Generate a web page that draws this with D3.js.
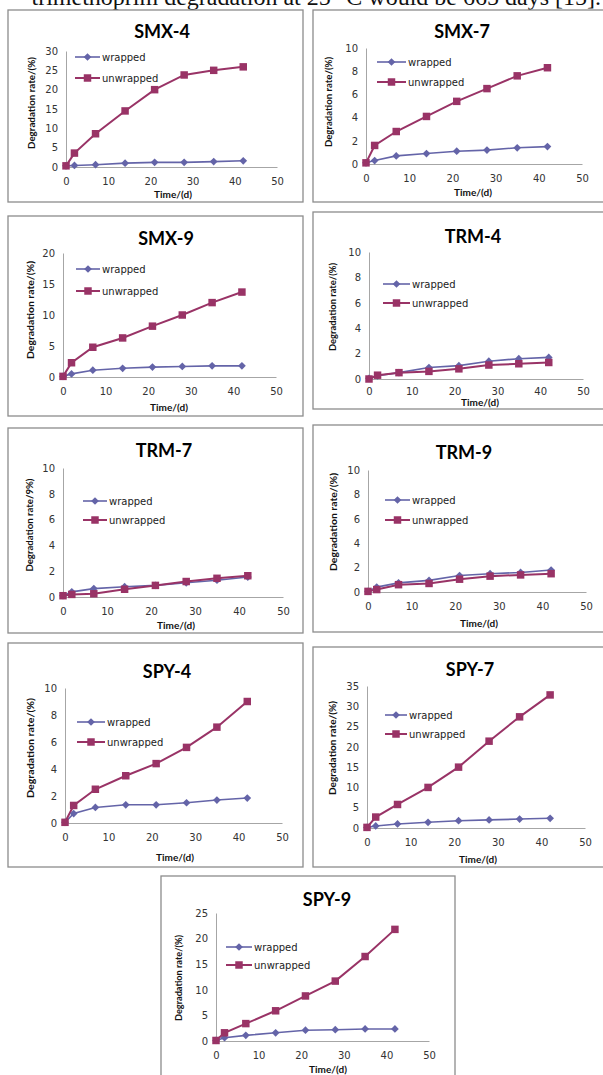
<!DOCTYPE html>
<html>
<head>
<meta charset="utf-8">
<script src="https://cdn.jsdelivr.net/npm/d3@7"></script>
<style>
  body { margin: 0; background: #fff; }
  svg { display: block; }
</style>
</head>
<body>
<svg id="chart"></svg>
<script>
// ---- data (days and degradation rate, %) ----
const days = [0, 2, 7, 14, 21, 28, 35, 42];
const xTicks = [0, 10, 20, 30, 40, 50];
const seriesNames = ["wrapped", "unwrapped"];

const smx4Wrapped   = [0.3, 0.4, 0.6, 1.0, 1.2, 1.2, 1.4, 1.6];
const smx4Unwrapped = [0.3, 3.6, 8.6, 14.5, 20.0, 23.8, 25.0, 25.9];
const smx7Wrapped   = [0.1, 0.3, 0.7, 0.9, 1.1, 1.2, 1.4, 1.5];
const smx7Unwrapped = [0.1, 1.6, 2.8, 4.1, 5.4, 6.5, 7.6, 8.3];
const smx9Wrapped   = [0.1, 0.5, 1.1, 1.4, 1.6, 1.7, 1.8, 1.8];
const smx9Unwrapped = [0.1, 2.3, 4.8, 6.3, 8.2, 10.0, 12.0, 13.7];
const trm4Wrapped   = [0.05, 0.25, 0.5, 0.9, 1.05, 1.4, 1.6, 1.7];
const trm4Unwrapped = [0.0, 0.3, 0.5, 0.6, 0.8, 1.1, 1.2, 1.3];
const trm7Wrapped   = [0.1, 0.4, 0.65, 0.8, 0.9, 1.1, 1.3, 1.55];
const trm7Unwrapped = [0.1, 0.2, 0.25, 0.6, 0.9, 1.2, 1.45, 1.65];
const trm9Wrapped   = [0.05, 0.4, 0.75, 0.95, 1.35, 1.5, 1.6, 1.8];
const trm9Unwrapped = [0.05, 0.2, 0.6, 0.7, 1.05, 1.3, 1.4, 1.5];
const spy4Wrapped   = [0.05, 0.7, 1.15, 1.35, 1.35, 1.5, 1.7, 1.85];
const spy4Unwrapped = [0.05, 1.3, 2.5, 3.5, 4.4, 5.6, 7.1, 9.0];
const spy7Wrapped   = [0.15, 0.5, 1.0, 1.4, 1.8, 2.0, 2.2, 2.4];
const spy7Unwrapped = [0.15, 2.7, 5.8, 10.0, 15.0, 21.4, 27.4, 32.8];
const spy9Wrapped   = [0.1, 0.65, 1.1, 1.6, 2.1, 2.2, 2.35, 2.35];
const spy9Unwrapped = [0.1, 1.6, 3.4, 5.9, 8.8, 11.7, 16.5, 21.8];

// ---- panel layout (page pixels) ----
const panels = [
  { title: "SMX-4", w: smx4Wrapped, u: smx4Unwrapped, yMax: 30, yStep: 5,
    box: [8, 10, 303, 202], ax: [66, 277, 167, 51], tx: 162, ty: 38, pad: 11,
    leg: [75, 100, 57, 78], xl: [173, 198], yl: [35, 103], ylabel: "Degradation rate/(%)", yLen: 92 },
  { title: "SMX-7", w: smx7Wrapped, u: smx7Unwrapped, yMax: 10, yStep: 2,
    box: [313, 10, 612, 202], ax: [366, 582, 164, 48], tx: 462, ty: 38, pad: 11,
    leg: [377, 406, 62, 82], xl: [473, 196], yl: [332, 102], ylabel: "Degradation rate/(%)", yLen: 90 },
  { title: "SMX-9", w: smx9Wrapped, u: smx9Unwrapped, yMax: 20, yStep: 5,
    box: [8, 216, 303, 416], ax: [63, 276, 377, 253], tx: 166, ty: 245, pad: 11,
    leg: [76, 100, 269, 291], xl: [169, 411], yl: [34, 310], ylabel: "Degradation rate/(%)", yLen: 98 },
  { title: "TRM-4", w: trm4Wrapped, u: trm4Unwrapped, yMax: 10, yStep: 2,
    box: [313, 212, 612, 409], ax: [369, 583, 379, 252], tx: 473, ty: 243, pad: 9,
    leg: [383, 410, 284, 303], xl: [480, 406], yl: [336, 307], ylabel: "Degradation rate/(%)", yLen: 88 },
  { title: "TRM-7", w: trm7Wrapped, u: trm7Unwrapped, yMax: 10, yStep: 2,
    box: [8, 428, 303, 633], ax: [63, 283, 597, 468], tx: 164, ty: 457, pad: 11,
    leg: [83, 107, 501, 520], xl: [176, 629], yl: [33, 525], ylabel: "Degradation rate/9%)", yLen: 93 },
  { title: "TRM-9", w: trm9Wrapped, u: trm9Unwrapped, yMax: 10, yStep: 2,
    box: [313, 425, 612, 632], ax: [368, 586, 592, 470], tx: 464, ty: 459, pad: 11,
    leg: [385, 410, 500, 520], xl: [479, 627], yl: [337, 522], ylabel: "Degradation rate/(%)", yLen: 98 },
  { title: "SPY-4", w: spy4Wrapped, u: spy4Unwrapped, yMax: 10, yStep: 2,
    box: [8, 643, 303, 867], ax: [65, 282, 823, 688], tx: 167, ty: 678, pad: 11,
    leg: [77, 105, 722, 742], xl: [175, 861], yl: [34, 748], ylabel: "Degradation rate/(%)", yLen: 100 },
  { title: "SPY-7", w: spy7Wrapped, u: spy7Unwrapped, yMax: 35, yStep: 5,
    box: [313, 647, 612, 867], ax: [367, 585, 828, 686], tx: 470, ty: 676, pad: 11,
    leg: [385, 407, 715, 734], xl: [478, 863], yl: [336, 748], ylabel: "Degradation rate/(%)", yLen: 94 },
  { title: "SPY-9", w: spy9Wrapped, u: spy9Unwrapped, yMax: 25, yStep: 5,
    box: [161, 876, 455, 1090], ax: [216, 429, 1041, 913], tx: 327, ty: 906, pad: 11,
    leg: [226, 252, 947, 965], xl: [328, 1073], yl: [182, 978], ylabel: "Degradation rate/(%)", yLen: 86 }
];

const colors = { wrapped: "#6464a8", unwrapped: "#993366" };
const tickFont = "'DejaVu Sans', Verdana, sans-serif";
const labelFont = "Lato, 'Open Sans', sans-serif";

const svg = d3.select("#chart").attr("width", 603).attr("height", 1075);

// line of body text cut off by the top edge of the page
svg.append("text")
  .attr("x", 601).attr("y", 5)
  .attr("text-anchor", "end")
  .attr("font-family", "'Liberation Serif', 'DejaVu Serif', serif")
  .attr("font-size", 24)
  .attr("fill", "#111")
  .text("trimethoprim degradation at 25 °C would be 665 days [15].");

const diamond = d3.symbol().type(d3.symbolSquare).size(30);
const square = d3.symbol().type(d3.symbolSquare).size(56);

panels.forEach(p => {
  const g = svg.append("g");

  // frame
  g.append("rect")
    .attr("x", p.box[0]).attr("y", p.box[1])
    .attr("width", p.box[2] - p.box[0]).attr("height", p.box[3] - p.box[1])
    .attr("fill", "#fff").attr("stroke", "#8c8c8c").attr("stroke-width", 1.3);

  const x = d3.scaleLinear().domain([0, 50]).range([p.ax[0], p.ax[1]]);
  const y = d3.scaleLinear().domain([0, p.yMax]).range([p.ax[2], p.ax[3]]);

  // axes
  const yAxis = g.append("g")
    .attr("transform", `translate(${p.ax[0]},0)`)
    .call(d3.axisLeft(y).tickValues(d3.range(0, p.yMax + 0.01, p.yStep)).tickSize(0).tickPadding(8));
  const xAxis = g.append("g")
    .attr("transform", `translate(0,${p.ax[2]})`)
    .call(d3.axisBottom(x).tickValues(xTicks).tickSize(0).tickPadding(p.pad));

  [xAxis, yAxis].forEach(a => {
    a.select(".domain").attr("stroke", "#a6a6a6").attr("stroke-width", 1);
    a.selectAll("text").attr("font-family", tickFont).attr("font-size", 10).attr("fill", "#333");
  });

  // titles
  g.append("text")
    .attr("x", p.tx).attr("y", p.ty)
    .attr("text-anchor", "middle")
    .attr("font-family", labelFont).attr("font-weight", "bold").attr("font-size", 18)
    .attr("fill", "#000")
    .text(p.title);

  g.append("text")
    .attr("x", p.xl[0]).attr("y", p.xl[1])
    .attr("text-anchor", "middle")
    .attr("font-family", labelFont).attr("font-weight", "bold").attr("font-size", 10)
    .attr("fill", "#111")
    .text("Time/(d)");

  g.append("text")
    .attr("transform", `translate(${p.yl[0]},${p.yl[1]}) rotate(-90)`)
    .attr("text-anchor", "middle")
    .attr("font-family", labelFont).attr("font-weight", "bold").attr("font-size", 9)
    .attr("textLength", p.yLen).attr("lengthAdjust", "spacingAndGlyphs")
    .attr("fill", "#111")
    .text(p.ylabel);

  // series
  const line = d3.line().x((d, i) => x(days[i])).y(d => y(d));
  const series = [
    { name: "wrapped", values: p.w, sym: diamond, rot: 45, width: 1.6 },
    { name: "unwrapped", values: p.u, sym: square, rot: 0, width: 2 }
  ];

  series.forEach(s => {
    g.append("path")
      .datum(s.values)
      .attr("d", line)
      .attr("fill", "none")
      .attr("stroke", colors[s.name])
      .attr("stroke-width", s.width);
  });
  series.forEach(s => {
    g.selectAll(null)
      .data(s.values)
      .enter().append("path")
      .attr("d", s.sym)
      .attr("transform", (d, i) => `translate(${x(days[i])},${y(d)}) rotate(${s.rot})`)
      .attr("fill", colors[s.name]);
  });

  // legend
  series.forEach((s, k) => {
    const ly = p.leg[2 + k];
    const lg = g.append("g");
    lg.append("line")
      .attr("x1", p.leg[0]).attr("x2", p.leg[1])
      .attr("y1", ly).attr("y2", ly)
      .attr("stroke", colors[s.name]).attr("stroke-width", s.width);
    lg.append("path")
      .attr("d", s.sym)
      .attr("transform", `translate(${(p.leg[0] + p.leg[1]) / 2},${ly}) rotate(${s.rot})`)
      .attr("fill", colors[s.name]);
    lg.append("text")
      .attr("x", p.leg[1] + 2).attr("y", ly + 4)
      .attr("font-family", tickFont).attr("font-size", 10)
      .attr("fill", "#222")
      .text(seriesNames[k]);
  });
});
</script>
</body>
</html>
